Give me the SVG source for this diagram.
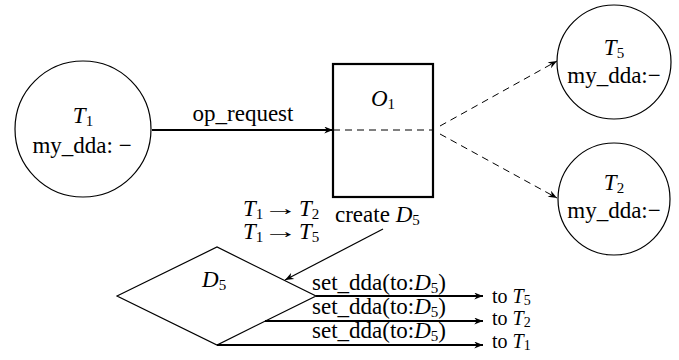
<svg xmlns="http://www.w3.org/2000/svg" width="679" height="360" viewBox="0 0 679 360">
  <style>
    text { font-family: 'Liberation Serif', 'Times New Roman', 'DejaVu Serif', serif; font-size: 23px; fill: #000; }
    .m { font-style: italic; }
    .sub { font-size: 15px; }
    .arr { font-size: 20px; }
    .small { font-size: 20px; }
    .small .sub { font-size: 14px; }
    .shape { fill: #fff; stroke: #000; stroke-width: 1.2; }
    .box { fill: #fff; stroke: #000; stroke-width: 2.2; }
    .solid { fill: none; stroke: #000; stroke-width: 1.2; }
    .thick { fill: none; stroke: #000; stroke-width: 2; }
    .dash { fill: none; stroke: #000; stroke-width: 1; stroke-dasharray: 7 5; }
  </style>
  <defs>
    <marker id="ah" viewBox="0 0 10 8" refX="10" refY="4" markerWidth="10" markerHeight="7" markerUnits="userSpaceOnUse" orient="auto">
      <path d="M0,0 L10,4 L0,8 L3,4 z" fill="#000"/>
    </marker>
  </defs>

  <rect width="679" height="360" fill="#fff"/>

  <!-- nodes -->
  <g id="T1">
    <circle class="shape" cx="83" cy="129" r="68"/>
    <text x="83" y="123" text-anchor="middle"><tspan class="m">T</tspan><tspan class="sub" dy="3">1</tspan></text>
    <text x="82" y="153" text-anchor="middle">my_dda: −</text>
  </g>

  <g id="O1">
    <rect class="box" x="333" y="64" width="100" height="133"/>
    <text x="383" y="106" text-anchor="middle"><tspan class="m">O</tspan><tspan class="sub" dy="3">1</tspan></text>
  </g>

  <g id="T5">
    <circle class="shape" cx="614" cy="62" r="57"/>
    <text x="614" y="55" text-anchor="middle"><tspan class="m">T</tspan><tspan class="sub" dy="3">5</tspan></text>
    <text x="614" y="83" text-anchor="middle">my_dda:−</text>
  </g>

  <g id="T2">
    <circle class="shape" cx="614" cy="199" r="56"/>
    <text x="614" y="190" text-anchor="middle"><tspan class="m">T</tspan><tspan class="sub" dy="3">2</tspan></text>
    <text x="614" y="218" text-anchor="middle">my_dda:−</text>
  </g>

  <g id="D5">
    <polygon class="shape" points="117,296 217,247 316,296 217,345"/>
    <text x="202" y="287"><tspan class="m">D</tspan><tspan class="sub" dy="3">5</tspan></text>
  </g>

  <!-- connectors -->
  <g id="connectors">
    <line class="thick" x1="152" y1="130" x2="333" y2="130" marker-end="url(#ah)"/>
    <line class="dash" x1="333" y1="130" x2="433" y2="130"/>
    <line class="dash" x1="440" y1="126" x2="557" y2="61" marker-end="url(#ah)"/>
    <line class="dash" x1="440" y1="134" x2="557" y2="198" marker-end="url(#ah)"/>
    <line class="solid" x1="383" y1="229" x2="285" y2="280" marker-end="url(#ah)"/>
    <line class="thick" x1="316" y1="296" x2="483" y2="296" marker-end="url(#ah)"/>
    <line class="thick" x1="265" y1="321" x2="483" y2="321" marker-end="url(#ah)"/>
    <line class="thick" x1="217" y1="345" x2="483" y2="345" marker-end="url(#ah)"/>
  </g>

  <!-- connector labels -->
  <g id="labels">
    <text x="243" y="121" text-anchor="middle">op_request</text>
    <text x="243" y="216"><tspan class="m">T</tspan><tspan class="sub" dy="3">1</tspan></text>
    <text class="arr" x="263" y="215" textLength="35" lengthAdjust="spacingAndGlyphs">→</text>
    <text x="299" y="216"><tspan class="m">T</tspan><tspan class="sub" dy="3">2</tspan></text>
    <text x="243" y="239"><tspan class="m">T</tspan><tspan class="sub" dy="3">1</tspan></text>
    <text class="arr" x="263" y="238" textLength="35" lengthAdjust="spacingAndGlyphs">→</text>
    <text x="299" y="239"><tspan class="m">T</tspan><tspan class="sub" dy="3">5</tspan></text>
    <text x="335" y="222">create <tspan class="m">D</tspan><tspan class="sub" dy="3">5</tspan></text>
    <text x="312" y="290">set_dda(to:<tspan class="m">D</tspan><tspan class="sub" dy="3">5</tspan><tspan dy="-3">)</tspan></text>
    <text x="312" y="314">set_dda(to:<tspan class="m">D</tspan><tspan class="sub" dy="3">5</tspan><tspan dy="-3">)</tspan></text>
    <text x="312" y="338">set_dda(to:<tspan class="m">D</tspan><tspan class="sub" dy="3">5</tspan><tspan dy="-3">)</tspan></text>
    <text class="small" x="492" y="303">to <tspan class="m">T</tspan><tspan class="sub" dy="2">5</tspan></text>
    <text class="small" x="492" y="325">to <tspan class="m">T</tspan><tspan class="sub" dy="2">2</tspan></text>
    <text class="small" x="492" y="348">to <tspan class="m">T</tspan><tspan class="sub" dy="2">1</tspan></text>
  </g>
</svg>
